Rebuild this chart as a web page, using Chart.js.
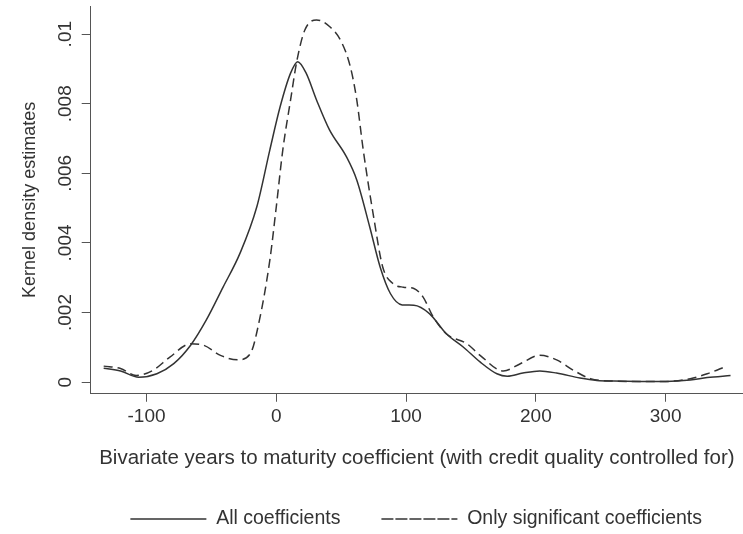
<!DOCTYPE html>
<html>
<head>
<meta charset="utf-8">
<script src="https://cdn.jsdelivr.net/npm/chart.js@4"></script>
<style>
  html, body { margin: 0; padding: 0; background: #fff; }
  #wrap { width: 743px; height: 534px; }
</style>
</head>
<body>
<div id="wrap"><canvas id="myChart"></canvas></div>
<script>
// kernel density, all coefficients
var allX = [-133, -120, -106, -92, -79, -66, -54, -41, -28, -15, -5, 3, 11, 16.5, 23, 31, 41, 54, 62, 72, 80, 88, 97, 106, 118, 131, 144, 157, 170, 178, 190, 203, 216, 234, 247, 260, 280, 300, 319, 332, 350];
var allY = [0.00040, 0.00032, 0.00014, 0.00024, 0.00053, 0.00106, 0.00178, 0.00273, 0.0037, 0.00504, 0.00667, 0.00792, 0.00888, 0.00921, 0.00888, 0.00811, 0.00725, 0.00648, 0.00581, 0.00446, 0.00331, 0.00254, 0.00222, 0.00221, 0.00197, 0.00139, 0.00101, 0.00058, 0.00024, 0.00017, 0.00026, 0.00032, 0.00026, 0.00012, 0.00005, 0.00003, 0.00002, 0.00002, 0.00006, 0.00013, 0.00019];

// kernel density, only significant coefficients
var sigX = [-133, -120, -108, -95, -82, -66, -56, -43, -30, -20, -13, -5, 0, 5, 11, 16, 22, 31, 41, 50, 57, 62, 67, 75, 82, 90, 98, 106, 113, 121, 131, 147, 157, 175, 188, 203, 216, 229, 242, 260, 280, 300, 319, 332, 347];
var sigY = [0.00046, 0.00039, 0.00019, 0.00034, 0.00072, 0.0011, 0.00106, 0.00077, 0.00064, 0.00082, 0.00178, 0.0035, 0.00504, 0.00667, 0.00811, 0.00926, 0.01012, 0.01041, 0.01022, 0.00979, 0.00907, 0.00811, 0.00667, 0.00475, 0.00331, 0.00283, 0.00273, 0.00269, 0.00245, 0.00187, 0.00139, 0.0011, 0.00077, 0.00032, 0.00053, 0.00077, 0.00064, 0.00034, 0.0001, 0.00003, 0.00002, 0.00002, 0.0001, 0.00024, 0.00046];

var xTicks = [-100, 0, 100, 200, 300];
var yTicks = [0, 0.002, 0.004, 0.006, 0.008, 0.01];
var yTickLabels = ['0', '.002', '.004', '.006', '.008', '.01'];

function toPoints(xs, ys) {
  return xs.map(function (x, i) { return { x: x, y: ys[i] }; });
}

Chart.defaults.font.family = '"Liberation Sans", Arial, sans-serif';
Chart.defaults.color = '#333';

var ink = '#333';
var axisCol = '#555';

var ctx = document.getElementById('myChart');
var myChart = new Chart(ctx, {
  type: 'line',
  data: {
    datasets: [{
      label: 'All coefficients',
      data: toPoints(allX, allY),
      borderColor: ink,
      backgroundColor: ink,
      borderWidth: 1.5,
      pointRadius: 0,
      cubicInterpolationMode: 'monotone',
      fill: false
    }, {
      label: 'Only significant coefficients',
      data: toPoints(sigX, sigY),
      borderColor: ink,
      backgroundColor: ink,
      borderWidth: 1.5,
      borderDash: [9, 5],
      pointRadius: 0,
      cubicInterpolationMode: 'monotone',
      fill: false
    }]
  },
  options: {
    responsive: true,
    maintainAspectRatio: false,
    animation: false,
    layout: { padding: { top: 6, right: 0, left: 0, bottom: -4.75 } },
    plugins: {
      tooltip: { enabled: false },
      legend: {
        position: 'bottom',
        align: 'end',
        labels: {
          boxWidth: 76,
          boxHeight: 0,
          padding: 41,
          color: ink,
          font: { size: 19.5 }
        }
      }
    },
    scales: {
      x: {
        type: 'linear',
        min: -143,
        max: 359.6,
        afterBuildTicks: function (scale) {
          scale.ticks = xTicks.map(function (v) { return { value: v }; });
        },
        ticks: {
          padding: 4,
          color: ink,
          font: { size: 19 },
          maxRotation: 0,
          callback: function (v) { return String(v); }
        },
        grid: { display: true, drawOnChartArea: false, drawTicks: true, tickLength: 8, color: axisCol },
        border: { display: true, color: axisCol, width: 1 },
        title: {
          display: true,
          text: 'Bivariate years to maturity coefficient (with credit quality controlled for)',
          color: ink,
          font: { size: 20.5 },
          padding: { top: 13.4, bottom: -2.3 }
        }
      },
      y: {
        type: 'linear',
        min: -0.000334,
        max: 0.01081,
        afterBuildTicks: function (scale) {
          scale.ticks = yTicks.map(function (v) { return { value: v }; });
        },
        ticks: {
          padding: -3,
          minRotation: 90,
          maxRotation: 90,
          crossAlign: 'center',
          color: ink,
          font: { size: 19, lineHeight: 0.8 },
          callback: function (v, i) { return yTickLabels[i]; }
        },
        grid: { display: true, drawOnChartArea: false, drawTicks: true, tickLength: 9, color: axisCol },
        border: { display: true, color: axisCol, width: 1 },
        title: {
          display: true,
          text: 'Kernel density estimates',
          color: ink,
          font: { size: 18 },
          padding: { top: 19.2, bottom: 31.7 }
        }
      }
    }
  }
});
</script>
</body>
</html>
